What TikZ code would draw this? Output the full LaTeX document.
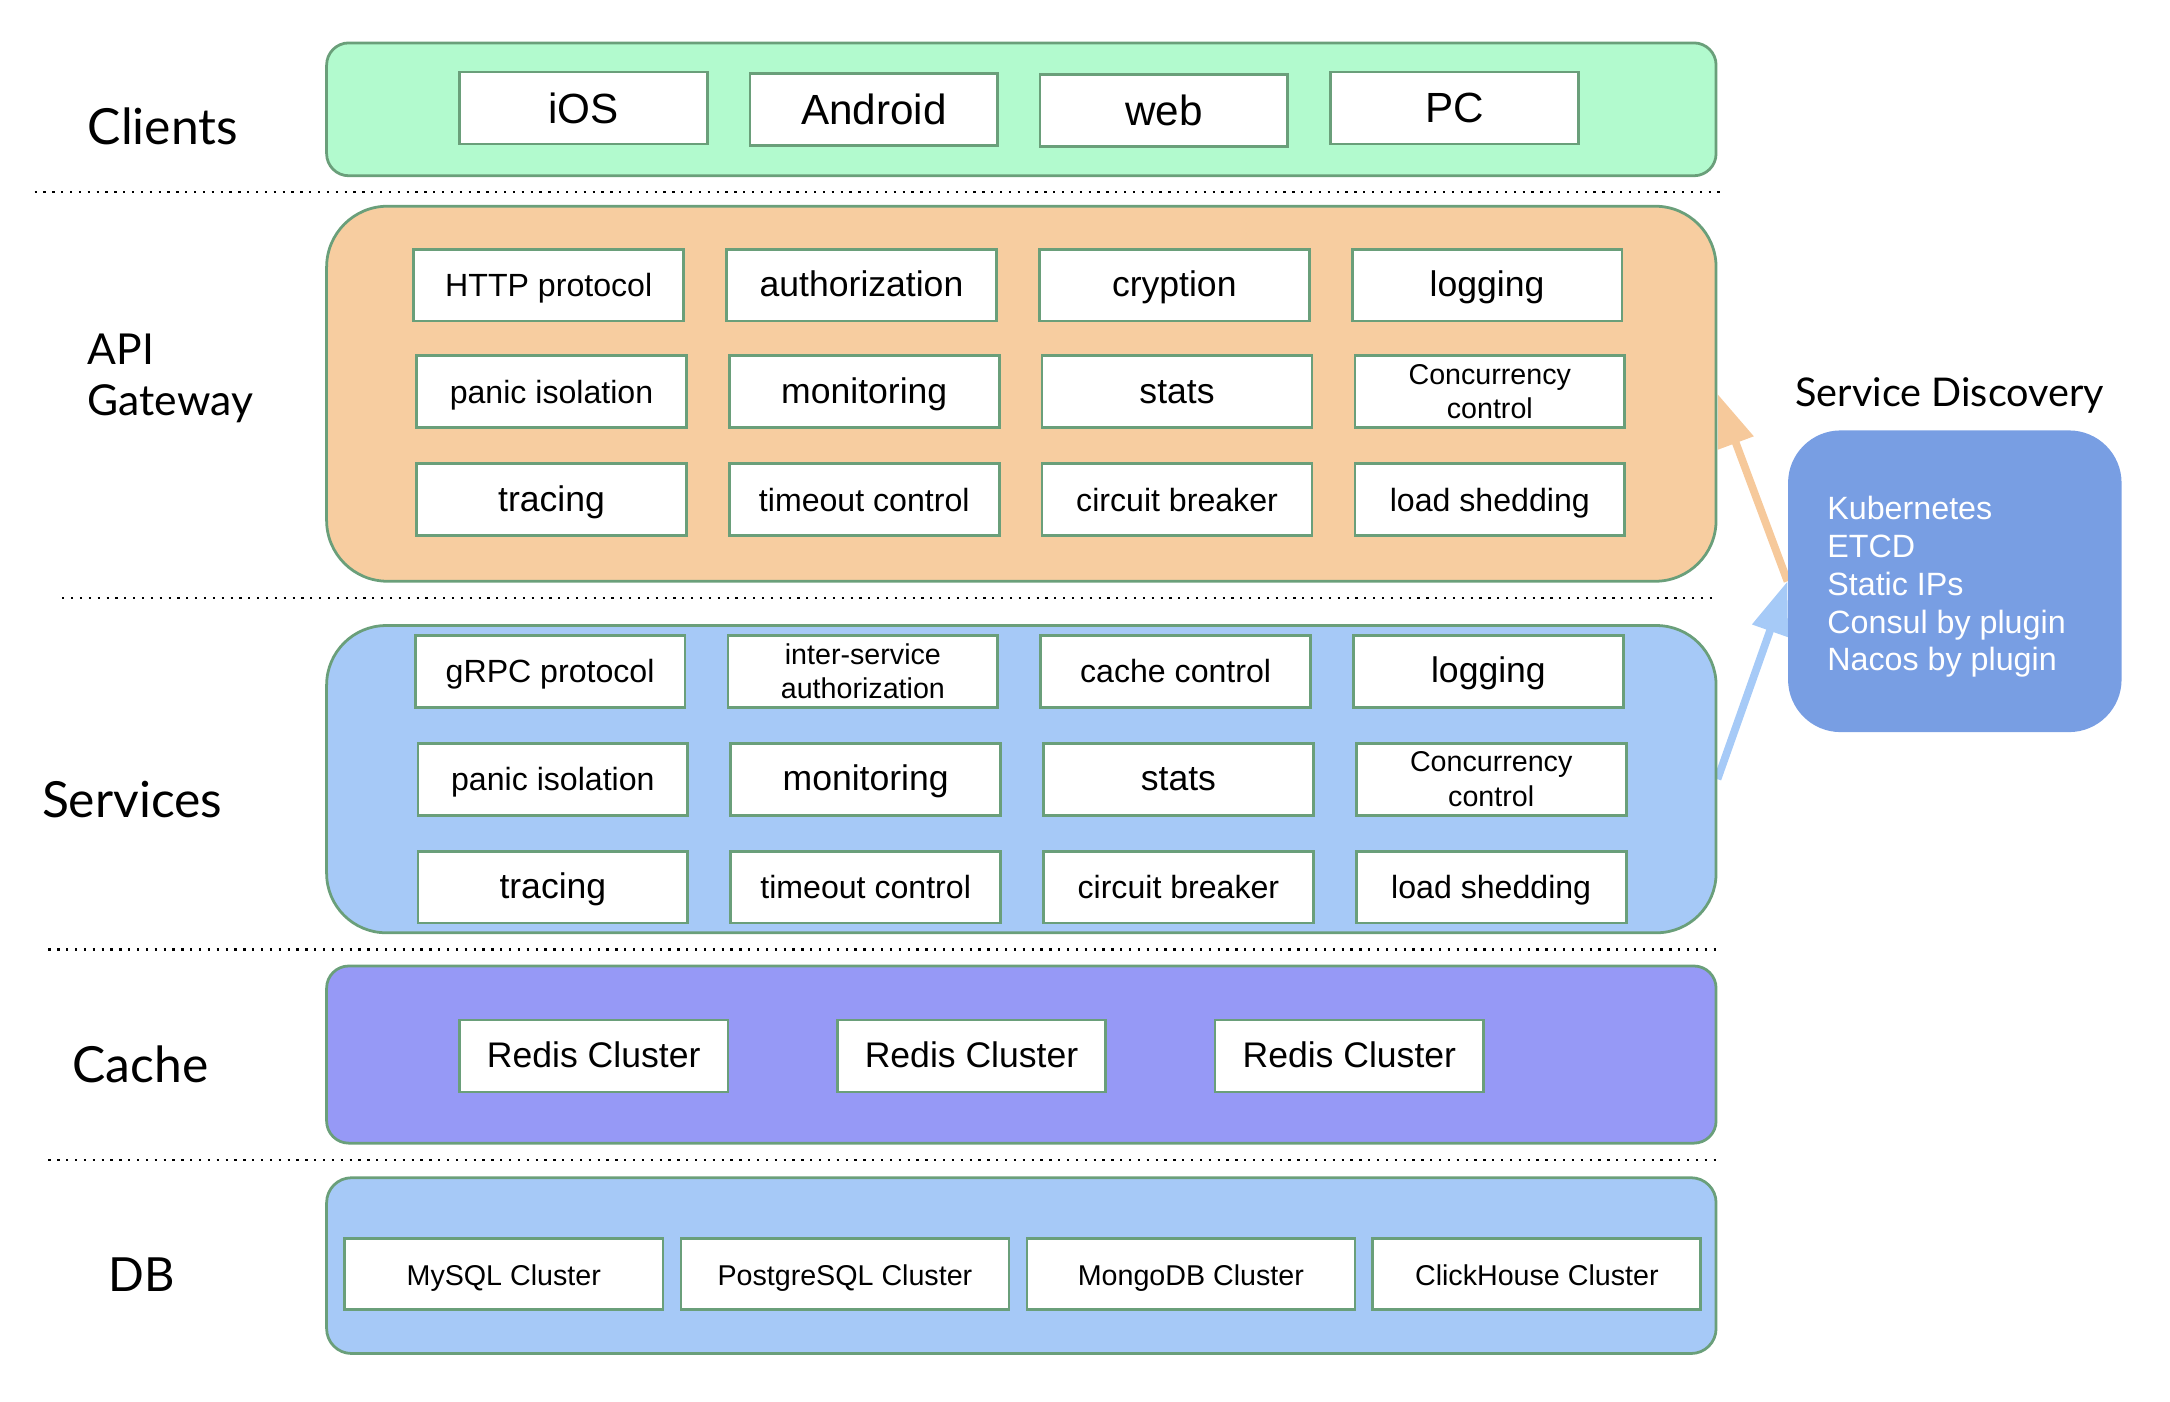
\documentclass[tikz,border=0pt]{standalone}
\usepackage{fontspec}
\setmainfont{Liberation Sans}
\newfontfamily\labelfont{Lato}
\usetikzlibrary{arrows.meta,backgrounds}
\definecolor{bordergreen}{HTML}{6A9F7A}
\definecolor{clientfill}{HTML}{B2FACE}
\definecolor{gwfill}{HTML}{F7CDA0}
\definecolor{svfill}{HTML}{A6C9F7}
\definecolor{cachefill}{HTML}{9699F6}
\definecolor{dbfill}{HTML}{A6C9F7}
\definecolor{sdfill}{HTML}{789EE3}
\definecolor{orangearrow}{HTML}{F6C99B}
\definecolor{bluearrow}{HTML}{A6CAF7}
\tikzset{
  band/.style={draw=bordergreen, line width=1pt, inner sep=0pt, minimum width=502pt},
  box/.style={draw=bordergreen, fill=white, line width=1pt, inner sep=0pt,
    minimum width=97.5pt, minimum height=26pt, align=center},
  oneline/.style={text height=0.85em, text depth=0pt},
  fclient/.style={font=\fontsize{15.25pt}{18pt}\selectfont},
  fbig/.style={font=\fontsize{12.85pt}{15pt}\selectfont, oneline},
  fmed/.style={font=\fontsize{11.6pt}{14pt}\selectfont, oneline},
  fsmall/.style={font=\fontsize{10.35pt}{12.5pt}\selectfont},
  ftwo/.style={font=\fontsize{10.35pt}{12.5pt}\selectfont},
  lab/.style={font=\labelfont\fontsize{18pt}{18.5pt}\selectfont, anchor=west, align=left, inner sep=0pt},
  sepline/.style={line width=0.8pt, dash pattern=on 0.8pt off 2.4pt},
  arr/.style={line width=2.8pt, -{Triangle[length=19pt,width=13pt]}},
}
\begin{document}
\begin{tikzpicture}[x=0.5pt,y=-0.5pt]
\useasboundingbox (0,0) rectangle (1568,1013);

% ---------- left labels ----------
\node[lab] (lclients) at (63,91) {Clients};
\node[lab, font=\labelfont\fontsize{15.4pt}{18.5pt}\selectfont] (lgateway) at (63,273.5) {API\\Gateway};
\node[lab] (lservices) at (30,578) {Services};
\node[lab] (lcache) at (52,769) {Cache};
\node[lab, font=\labelfont\fontsize{17pt}{18.5pt}\selectfont] (ldb) at (78,921) {DB};

% ---------- separators ----------
\draw[sepline] (25,139) -- (1247,139);
\draw[sepline] (45,432) -- (1241,432);
\draw[sepline] (35,686) -- (1241,686);
\draw[sepline] (35,838) -- (1241,838);

% ---------- Clients ----------
\node[band, fill=clientfill, rounded corners=8pt, minimum height=48pt] (clients) at (738,79) {};
\node[box, fclient, minimum width=89.5pt] (ios) at (421.5,78) {iOS};
\node[box, fclient, minimum width=89.5pt] (android) at (631.5,79) {Android};
\node[box, fclient, minimum width=89.5pt] (web) at (841,80) {web};
\node[box, fclient, minimum width=89.5pt] (pc) at (1051,78) {PC};

% ---------- API Gateway ----------
\node[band, fill=gwfill, rounded corners=22pt, minimum height=135.5pt] (gw) at (738,284.5) {};
\node[box, fmed] (g11) at (396.5,206) {HTTP protocol};
\node[box, fbig] (g12) at (622.5,206) {authorization};
\node[box, fbig] (g13) at (848.5,206) {cryption};
\node[box, fbig] (g14) at (1074.5,206) {logging};
\node[box, fmed] (g21) at (398.5,283) {panic isolation};
\node[box, fbig] (g22) at (624.5,283) {monitoring};
\node[box, fbig] (g23) at (850.5,283) {stats};
\node[box, ftwo] (g24) at (1076.5,283) {Concurrency\\control};
\node[box, fbig] (g31) at (398.5,361) {tracing};
\node[box, fmed] (g32) at (624.5,361) {timeout control};
\node[box, fmed] (g33) at (850.5,361) {circuit breaker};
\node[box, fmed] (g34) at (1076.5,361) {load shedding};

% ---------- Services ----------
\node[band, fill=svfill, rounded corners=21.5pt, minimum height=111pt] (sv) at (738,563) {};
\node[box, fmed] (s11) at (397.5,485) {gRPC protocol};
\node[box, ftwo] (s12) at (623.5,485) {inter-service\\authorization};
\node[box, fmed] (s13) at (849.5,485) {cache control};
\node[box, fbig] (s14) at (1075.5,485) {logging};
\node[box, fmed] (s21) at (399.5,563) {panic isolation};
\node[box, fbig] (s22) at (625.5,563) {monitoring};
\node[box, fbig] (s23) at (851.5,563) {stats};
\node[box, ftwo] (s24) at (1077.5,563) {Concurrency\\control};
\node[box, fbig] (s31) at (399.5,641) {tracing};
\node[box, fmed] (s32) at (625.5,641) {timeout control};
\node[box, fmed] (s33) at (851.5,641) {circuit breaker};
\node[box, fmed] (s34) at (1077.5,641) {load shedding};

% ---------- Cache ----------
\node[band, fill=cachefill, rounded corners=8pt, minimum height=64pt] (cache) at (738,762) {};
\node[box, fbig, minimum width=97pt] (r1) at (429,763) {Redis Cluster};
\node[box, fbig, minimum width=97pt] (r2) at (702,763) {Redis Cluster};
\node[box, fbig, minimum width=97pt] (r3) at (975,763) {Redis Cluster};

% ---------- DB ----------
\node[band, fill=dbfill, rounded corners=9pt, minimum height=63.5pt] (db) at (738,914.5) {};
\node[box, fsmall, oneline, minimum width=115pt, minimum height=25.5pt] (mysql) at (364,920.5) {MySQL Cluster};
\node[box, fsmall, oneline, minimum width=118.5pt, minimum height=25.5pt] (pg) at (610.5,920.5) {PostgreSQL Cluster};
\node[box, fsmall, oneline, minimum width=118.5pt, minimum height=25.5pt] (mongo) at (860.5,920.5) {MongoDB Cluster};
\node[box, fsmall, oneline, minimum width=118.5pt, minimum height=25.5pt] (ch) at (1110.5,920.5) {ClickHouse Cluster};

% ---------- Service Discovery ----------
\node[font=\labelfont\fontsize{14.3pt}{16pt}\selectfont, anchor=west, inner sep=0pt] (sdlabel) at (1297,286) {Service Discovery};
\node[fill=sdfill, rounded corners=19pt, minimum height=109pt, minimum width=120.5pt, inner sep=0pt] (sd) at (1412.5,420) {};
\node[anchor=north west, inner sep=0pt, align=left, text=white,
      font=\fontsize{11.65pt}{13.65pt}\selectfont] (sdtext) at (1320,358.3)
  {Kubernetes\\ETCD\\Static IPs\\Consul by plugin\\Nacos by plugin};

% ---------- arrows (behind the bands) ----------
\begin{scope}[on background layer]
  \draw[arr, orangearrow] (sd.west) -- (gw.east);
  \draw[arr, bluearrow] (sv.east) -- (sd.west);
\end{scope}
\end{tikzpicture}
\end{document}
